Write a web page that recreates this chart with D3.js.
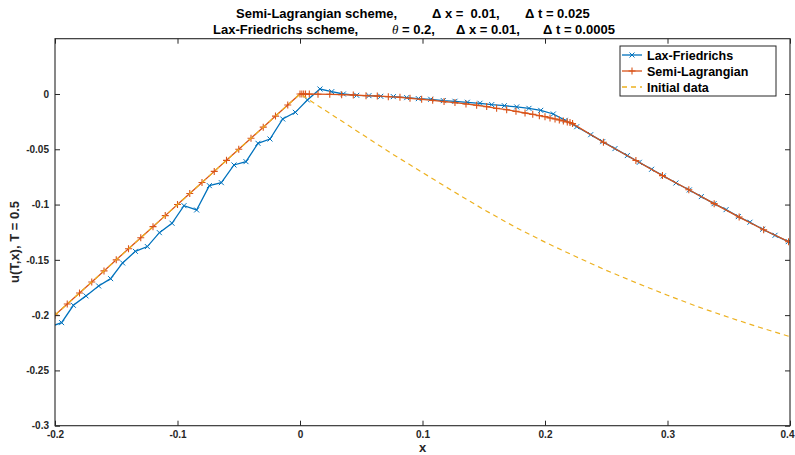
<!DOCTYPE html>
<html>
<head>
<meta charset="utf-8">
<script src="https://cdn.jsdelivr.net/npm/d3@7"></script>
<style>
  html, body { margin: 0; padding: 0; background: #fff; }
  svg { display: block; font-family: "Liberation Sans", Arial, Helvetica, sans-serif; }
  text { white-space: pre; }
</style>
</head>
<body>
<svg id="chart" width="795" height="455"></svg>
<script>
// ---------- data ----------
const xTicks = [-0.2, -0.1, 0, 0.1, 0.2, 0.3, 0.4];
const xTickLabels = ["-0.2", "-0.1", "0", "0.1", "0.2", "0.3", "0.4"];
const yTicks = [-0.3, -0.25, -0.2, -0.15, -0.1, -0.05, 0];
const yTickLabels = ["-0.3", "-0.25", "-0.2", "-0.15", "-0.1", "-0.05", "0"];

const seriesNames = ["Lax-Friedrichs", "Semi-Lagrangian", "Initial data"];

// Lax-Friedrichs
const lfX = [-0.2047, -0.1946, -0.1850, -0.1747, -0.1644, -0.1546, -0.1448, -0.1344, -0.1246, -0.1148,
  -0.1045, -0.0947, -0.0844, -0.0740, -0.0642, -0.0539, -0.0441, -0.0343, -0.0245, -0.0141,
  -0.0038, 0.0060, 0.0163, 0.0259, 0.0354, 0.0463, 0.0563, 0.0659, 0.0762, 0.0871,
  0.0966, 0.1067, 0.1170, 0.1265, 0.1366, 0.1469, 0.1565, 0.1668, 0.1769, 0.1869,
  0.1965, 0.2068, 0.2165, 0.2259, 0.2373, 0.2471, 0.2571, 0.2672, 0.2770, 0.2870,
  0.2966, 0.3069, 0.3178, 0.3276, 0.3380, 0.3478, 0.3578, 0.3673, 0.3777, 0.3878,
  0.3986, 0.4087];
const lfU = [-0.2107, -0.2068, -0.1911, -0.1826, -0.1736, -0.1670, -0.1528, -0.1423, -0.1380, -0.1254,
  -0.1169, -0.1010, -0.1049, -0.0829, -0.0802, -0.0642, -0.0612, -0.0446, -0.0407, -0.0226,
  -0.0166, -0.0054, 0.0045, 0.0021, 0.0000, -0.0012, -0.0015, -0.0021, -0.0024, -0.0033,
  -0.0042, -0.0048, -0.0060, -0.0066, -0.0075, -0.0084, -0.0096, -0.0106, -0.0117, -0.0130,
  -0.0148, -0.0181, -0.0238, -0.0296, -0.0368, -0.0431, -0.0494, -0.0557, -0.0618, -0.0681,
  -0.0741, -0.0805, -0.0868, -0.0928, -0.0992, -0.1046, -0.1109, -0.1160, -0.1223, -0.1278,
  -0.1335, -0.1395];

// Semi-Lagrangian
const slX = [-0.20, -0.19, -0.18, -0.17, -0.16, -0.15, -0.14, -0.13, -0.12, -0.11,
  -0.10, -0.09, -0.08, -0.07, -0.06, -0.05, -0.04, -0.03, -0.02, -0.01,
  0.0000, 0.0015, 0.0030, 0.0045, 0.0076, 0.0147, 0.0243, 0.0340, 0.0435, 0.0539,
  0.0631, 0.0721, 0.0816, 0.0898, 0.0993, 0.1083, 0.1176, 0.1265, 0.1355, 0.1442,
  0.1524, 0.1605, 0.1687, 0.1763, 0.1837, 0.1900, 0.1954, 0.2000, 0.2041, 0.2082,
  0.2117, 0.2150, 0.2182, 0.2204, 0.2225, 0.2477, 0.2742, 0.2959, 0.3174, 0.3381,
  0.3585, 0.3785, 0.3988];
const slU = [-0.20, -0.19, -0.18, -0.17, -0.16, -0.15, -0.14, -0.13, -0.12, -0.11,
  -0.10, -0.09, -0.08, -0.07, -0.06, -0.05, -0.04, -0.03, -0.02, -0.01,
  0.0000, 0.0000, 0.0000, -0.0001, -0.0001, -0.0002, -0.0003, -0.0006, -0.0009, -0.0015,
  -0.0018, -0.0024, -0.0030, -0.0039, -0.0048, -0.0057, -0.0069, -0.0078, -0.0090, -0.0102,
  -0.0114, -0.0130, -0.0142, -0.0157, -0.0172, -0.0184, -0.0196, -0.0205, -0.0217, -0.0226,
  -0.0235, -0.0244, -0.0253, -0.0259, -0.0268, -0.0436, -0.0602, -0.0738, -0.0866, -0.0992,
  -0.1113, -0.1228, -0.1336];

// Initial data
const initX = [-0.20, -0.15, -0.10, -0.05, 0.00, 0.025, 0.05, 0.075, 0.10, 0.125, 0.15, 0.175,
  0.20, 0.225, 0.25, 0.275, 0.30, 0.325, 0.35, 0.375, 0.40];
const initU = [-0.20, -0.15, -0.10, -0.05, 0.00, -0.0180, -0.0360, -0.0540, -0.0710, -0.0880, -0.1045, -0.1200,
  -0.1340, -0.1470, -0.1595, -0.1710, -0.1820, -0.1925, -0.2020, -0.2110, -0.2195];

// ---------- drawing ----------
const W = 795, H = 455;
const L = 55, R = 790, T = 38.7, B = 425.7;
const colors = ["#0072BD", "#D95319", "#EDB120"];
const axisColor = "#262626";

const svg = d3.select("#chart");
const x = d3.scaleLinear().domain([-0.2, 0.4]).range([L, R]);
const y = d3.scaleLinear().domain([-0.3, 0.05]).range([B, T]);

svg.append("rect").attr("x", 0).attr("y", 0).attr("width", W).attr("height", H).attr("fill", "#fff");

svg.append("defs").append("clipPath").attr("id", "clip")
  .append("rect").attr("x", L).attr("y", T).attr("width", R - L).attr("height", B - T);

const plot = svg.append("g").attr("clip-path", "url(#clip)");
const line = d3.line().x(d => x(d[0])).y(d => y(d[1]));

const lf = lfX.map((v, i) => [v, lfU[i]]);
const sl = slX.map((v, i) => [v, slU[i]]);
const init = initX.map((v, i) => [v, initU[i]]);

function xMarker(g, pts, color, s) {
  g.selectAll(null).data(pts).enter().append("path")
    .attr("d", d => {
      const cx = x(d[0]), cy = y(d[1]);
      return `M${cx - s},${cy - s}L${cx + s},${cy + s}M${cx - s},${cy + s}L${cx + s},${cy - s}`;
    })
    .attr("stroke", color).attr("stroke-width", 1).attr("fill", "none");
}
function plusMarker(g, pts, color, s) {
  g.selectAll(null).data(pts).enter().append("path")
    .attr("d", d => {
      const cx = x(d[0]), cy = y(d[1]);
      return `M${cx - s},${cy}L${cx + s},${cy}M${cx},${cy - s}L${cx},${cy + s}`;
    })
    .attr("stroke", color).attr("stroke-width", 1.1).attr("fill", "none");
}

// Lax-Friedrichs
plot.append("path").datum(lf).attr("d", line)
  .attr("fill", "none").attr("stroke", colors[0]).attr("stroke-width", 1.3);
xMarker(plot.append("g"), lf, colors[0], 2.5);

// Semi-Lagrangian
plot.append("path").datum(sl).attr("d", line)
  .attr("fill", "none").attr("stroke", colors[1]).attr("stroke-width", 1.3);
plusMarker(plot.append("g"), sl, colors[1], 3.5);

// Initial data
plot.append("path").datum(init).attr("d", line)
  .attr("fill", "none").attr("stroke", colors[2]).attr("stroke-width", 1.2)
  .attr("stroke-dasharray", "5,4");

// ---------- axes ----------
const tickLen = 5;
const fmtX = (d, i) => xTickLabels[i];
const fmtY = (d, i) => yTickLabels[i];

const gB = svg.append("g").attr("transform", `translate(0,${B})`)
  .call(d3.axisBottom(x).tickValues(xTicks).tickFormat(fmtX).tickSizeInner(-tickLen).tickSizeOuter(0).tickPadding(6));
const gT = svg.append("g").attr("transform", `translate(0,${T})`)
  .call(d3.axisTop(x).tickValues(xTicks).tickFormat("").tickSizeInner(-tickLen).tickSizeOuter(0));
const gL = svg.append("g").attr("transform", `translate(${L},0)`)
  .call(d3.axisLeft(y).tickValues(yTicks).tickFormat(fmtY).tickSizeInner(-tickLen).tickSizeOuter(0).tickPadding(6));
const gR = svg.append("g").attr("transform", `translate(${R},0)`)
  .call(d3.axisRight(y).tickValues(yTicks).tickFormat("").tickSizeInner(-tickLen).tickSizeOuter(0));

[gB, gT, gL, gR].forEach(g => {
  g.select(".domain").remove();
  g.selectAll(".tick line").attr("stroke", axisColor).attr("stroke-width", 1);
  g.selectAll(".tick text").attr("fill", axisColor)
    .style("font-family", "'Liberation Sans', Arial, sans-serif")
    .style("font-size", "10px").style("font-weight", "bold");
});
gB.selectAll(".tick text").attr("dy", "0.71em").attr("y", 5);
gB.selectAll(".tick text").filter((d, i) => i === xTicks.length - 1).attr("dx", -3);
gL.selectAll(".tick text").attr("x", -6);

svg.append("rect").attr("x", L).attr("y", T).attr("width", R - L).attr("height", B - T)
  .attr("fill", "none").attr("stroke", axisColor).attr("stroke-width", 1.1);

// axis labels
svg.append("text").attr("x", (L + R) / 2).attr("y", 452).attr("text-anchor", "middle")
  .attr("fill", axisColor).style("font-size", "13px").style("font-weight", "bold").text("x");
svg.append("text").attr("transform", `translate(19,242) rotate(-90)`)
  .attr("text-anchor", "middle").attr("fill", axisColor)
  .style("font-size", "13px").style("font-weight", "bold").text("u(T,x), T = 0.5");

// title
const title = svg.append("g").attr("fill", "#000").style("font-size", "13px").style("font-weight", "bold");
const t1 = title.append("text").attr("y", 18);
t1.append("tspan").attr("x", 236).text("Semi-Lagrangian scheme,");
t1.append("tspan").attr("x", 432).text("Δ x =  0.01,");
t1.append("tspan").attr("x", 525).text("Δ t = 0.025");
const t2 = title.append("text").attr("y", 33.5);
t2.append("tspan").attr("x", 213).text("Lax-Friedrichs scheme,");
const th = t2.append("tspan").attr("x", 392);
th.append("tspan").style("font-style", "italic").style("font-weight", "normal").style("font-family", "'Liberation Serif', serif").text("θ");
th.append("tspan").text(" = 0.2,");
t2.append("tspan").attr("x", 456).text("Δ x = 0.01,");
t2.append("tspan").attr("x", 543).text("Δ t = 0.0005");

// legend
const lg = svg.append("g");
lg.append("rect").attr("x", 620).attr("y", 46).attr("width", 156).attr("height", 50)
  .attr("fill", "#fff").attr("stroke", axisColor).attr("stroke-width", 1);
const rowsY = [55, 71, 87];
seriesNames.forEach((name, i) => {
  const yy = rowsY[i];
  const ln = lg.append("line").attr("x1", 622).attr("x2", 642).attr("y1", yy).attr("y2", yy)
    .attr("stroke", colors[i]).attr("stroke-width", 1.3);
  if (i === 2) ln.attr("stroke-dasharray", "5,4");
  if (i === 0) {
    lg.append("path").attr("d", `M629.5,${yy - 2.5}L634.5,${yy + 2.5}M629.5,${yy + 2.5}L634.5,${yy - 2.5}`)
      .attr("stroke", colors[0]).attr("stroke-width", 1);
  }
  if (i === 1) {
    lg.append("path").attr("d", `M628.5,${yy}L635.5,${yy}M632,${yy - 3.5}L632,${yy + 3.5}`)
      .attr("stroke", colors[1]).attr("stroke-width", 1.1);
  }
  lg.append("text").attr("x", 647).attr("y", yy + 4.5).attr("fill", "#000")
    .style("font-size", "12.5px").style("font-weight", "bold").text(name);
});
</script>
</body>
</html>
